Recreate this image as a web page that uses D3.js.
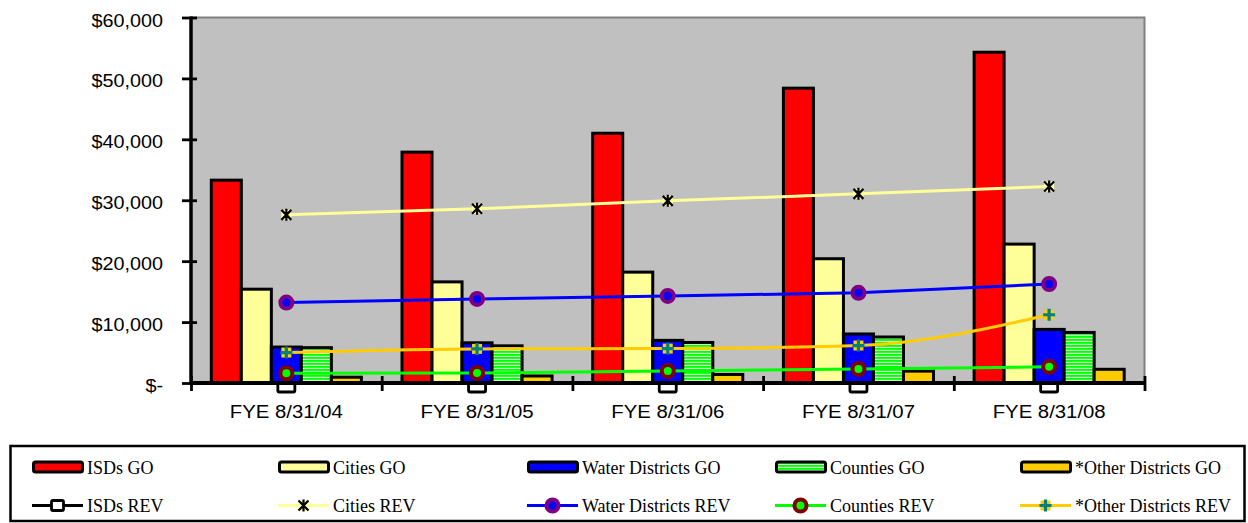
<!DOCTYPE html>
<html><head><meta charset="utf-8">
<script src="https://cdn.jsdelivr.net/npm/d3@7"></script>
<style>body{margin:0;background:#fff}svg{display:block}</style>
</head><body>
<svg id="chart" width="1248" height="523"></svg>
<script>
// ---------- DATA ----------
const categories = ["FYE 8/31/04", "FYE 8/31/05", "FYE 8/31/06", "FYE 8/31/07", "FYE 8/31/08"];
const isdsGO      = [33300, 37900, 41000, 48400, 54300];
const citiesGO    = [15400, 16600, 18200, 20400, 22800];
const waterGO     = [5900, 6600, 7000, 8050, 8800];
const countiesGO  = [5800, 6100, 6650, 7550, 8300];
const otherGO     = [950, 1150, 1400, 1950, 2250];
const isdsREV     = [0, 0, 0, 0, 0];
const citiesREV   = [27600, 28600, 29900, 31050, 32250];
const waterREV    = [13200, 13800, 14300, 14800, 16250];
const countiesREV = [1600, 1650, 1950, 2300, 2650];
const otherREV    = [5000, 5600, 5650, 6150, 11200];
const yTickValues = [0, 10000, 20000, 30000, 40000, 50000, 60000];
const yTickLabels = ["$-", "$10,000", "$20,000", "$30,000", "$40,000", "$50,000", "$60,000"];

// ---------- STYLE / CONFIG ----------
const barSeries = [
  {name: "ISDs GO", values: isdsGO, fill: "#FF0000"},
  {name: "Cities GO", values: citiesGO, fill: "#FFFF99"},
  {name: "Water Districts GO", values: waterGO, fill: "#0000FF"},
  {name: "Counties GO", values: countiesGO, fill: "url(#stripes)"},
  {name: "*Other Districts GO", values: otherGO, fill: "#FFCC00"}
];
const lineSeries = [
  {name: "ISDs REV", values: isdsREV, color: "#000000", marker: "square", smooth: false},
  {name: "Cities REV", values: citiesREV, color: "#FFFF99", marker: "star", smooth: false},
  {name: "Water Districts REV", values: waterREV, color: "#0000FF", marker: "ringPurple", smooth: false},
  {name: "Counties REV", values: countiesREV, color: "#00FF00", marker: "ringRed", smooth: false},
  {name: "*Other Districts REV", values: otherREV, color: "#FFCC00", marker: "plus", smooth: true}
];

const plot = {l: 191, r: 1144.5, t: 17.5, b: 383};
const svg = d3.select("#chart");

const defs = svg.append("defs");
const pat = defs.append("pattern").attr("id", "stripes").attr("patternUnits", "userSpaceOnUse")
  .attr("width", 6).attr("height", 3);
pat.append("rect").attr("width", 6).attr("height", 3).attr("fill", "#CCFFCC");
pat.append("rect").attr("width", 6).attr("height", 1.8).attr("fill", "#00FF00");

// ---------- SCALES ----------
const pad = 0.213;
const x0 = d3.scaleBand().domain(categories).range([plot.l, plot.r]).paddingInner(pad).paddingOuter(pad / 2);
const x1 = d3.scaleBand().domain(barSeries.map(s => s.name)).range([0, x0.bandwidth()]).padding(0);
const xIdx = d3.scaleLinear().domain([0, categories.length]).range([plot.l, plot.r]);
const y = d3.scaleLinear().domain([0, 60000]).range([plot.b, plot.t]);
const cx = c => x0(c) + x0.bandwidth() / 2;

// ---------- PLOT AREA ----------
svg.append("rect").attr("x", plot.l).attr("y", plot.t).attr("width", plot.r - plot.l).attr("height", plot.b - plot.t)
  .attr("fill", "#C0C0C0");
svg.append("path").attr("d", `M${plot.l},${plot.t}H${plot.r}V${plot.b}`).attr("fill", "none")
  .attr("stroke", "#808080").attr("stroke-width", 2);

// ---------- MARKERS ----------
function marker(g, type, x, yy, legend) {
  const m = g.append("g").attr("transform", `translate(${x},${yy})`);
  if (type === "square") {
    const w = legend ? 12 : 17, h = legend ? 10 : 18;
    m.append("rect").attr("x", -w / 2).attr("y", -h / 2).attr("width", w).attr("height", h).attr("rx", 1.5)
      .attr("fill", "#fff").attr("stroke", "#000").attr("stroke-width", 2.8);
  } else if (type === "star") {
    m.append("rect").attr("x", -5).attr("y", -5).attr("width", 10).attr("height", 10).attr("fill", "#FFFF99");
    m.append("path").attr("d", "M-5,-5L5,5M-5,5L5,-5M0,-6V6").attr("stroke", "#000").attr("stroke-width", 2.2);
  } else if (type === "ringPurple") {
    m.append("circle").attr("r", 6).attr("fill", "#0000FF").attr("stroke", "#800080").attr("stroke-width", 4);
  } else if (type === "ringRed") {
    m.append("circle").attr("r", 6).attr("fill", "#00FF00").attr("stroke", "#800000").attr("stroke-width", 4);
  } else if (type === "plus") {
    m.append("rect").attr("x", -5).attr("y", -5).attr("width", 10).attr("height", 10).attr("fill", "#FFCC00");
    m.append("path").attr("d", "M-6,0H6M0,-6V6").attr("stroke", "#008080").attr("stroke-width", 3.2);
  }
}

// ISDs REV markers sit behind the bars (only the part below the axis shows)
const behind = svg.append("g");
lineSeries.filter(s => s.marker === "square").forEach(s => {
  s.values.forEach((v, i) => marker(behind, s.marker, cx(categories[i]), y(v), false));
});

// ---------- BARS ----------
const barG = svg.append("g");
categories.forEach((c, i) => {
  barSeries.forEach(s => {
    barG.append("rect")
      .attr("x", x0(c) + x1(s.name)).attr("y", y(s.values[i]))
      .attr("width", x1.bandwidth()).attr("height", y(0) - y(s.values[i]))
      .attr("fill", s.fill).attr("stroke", "#000").attr("stroke-width", 3);
  });
});

// ---------- LINES ----------
const lineG = svg.append("g");
lineSeries.forEach(s => {
  const gen = d3.line().x((d, i) => cx(categories[i])).y(d => y(d))
    .curve(s.smooth ? d3.curveMonotoneX : d3.curveLinear);
  lineG.append("path").datum(s.values).attr("d", gen).attr("fill", "none")
    .attr("stroke", s.color).attr("stroke-width", 3);
});

// ---------- AXES ----------
const yAxis = svg.append("g").attr("transform", `translate(${plot.l},0)`)
  .call(d3.axisLeft(y).tickValues(yTickValues).tickFormat((d, i) => yTickLabels[i]).tickSize(9).tickPadding(19));
yAxis.select(".domain").attr("stroke", "#000").attr("stroke-width", 3.5).attr("d", `M0,${plot.t - 1}V${plot.b}`);
yAxis.selectAll(".tick line").attr("x1", 6).attr("x2", -9).attr("stroke", "#000").attr("stroke-width", 2.8);
yAxis.selectAll(".tick text").attr("font-family", "Liberation Sans, Arial, sans-serif").attr("font-size", 18)
  .attr("fill", "#000").attr("dy", null).attr("x", -28).attr("y", 8.5)
  .attr("transform", "translate(-28,0) scale(1.1,1) translate(28,0)");

const xAxis = svg.append("g").attr("transform", `translate(0,${plot.b})`)
  .call(d3.axisBottom(xIdx).tickValues(d3.range(categories.length + 1)).tickFormat("").tickSize(8));
xAxis.select(".domain").attr("stroke", "#000").attr("stroke-width", 4).attr("d", `M${plot.l},0H${plot.r + 1}`);
xAxis.selectAll(".tick line").attr("y1", -7).attr("y2", 8).attr("stroke", "#000").attr("stroke-width", 2.8);

// markers above everything in the plot (except ISDs REV, drawn behind)
const markG = svg.append("g");
lineSeries.filter(s => s.marker !== "square").forEach(s => {
  s.values.forEach((v, i) => marker(markG, s.marker, cx(categories[i]), y(v), false));
});

// category labels
svg.append("g").selectAll("text").data(categories).join("text")
  .attr("transform", d => `translate(${cx(d)},418) scale(1.13,1)`)
  .attr("text-anchor", "middle").attr("font-family", "Liberation Sans, Arial, sans-serif")
  .attr("font-size", 18).attr("fill", "#000").text(d => d);

// ---------- LEGEND ----------
const leg = svg.append("g");
leg.append("rect").attr("x", 10.5).attr("y", 446).attr("width", 1234).attr("height", 75)
  .attr("fill", "#fff").attr("stroke", "#000").attr("stroke-width", 2.5);
const colX = [32, 278, 527, 775, 1020];
const row1 = 467, row2 = 505.5;
barSeries.forEach((s, i) => {
  leg.append("rect").attr("x", colX[i] + 1.5).attr("y", row1 - 5).attr("width", 49).attr("height", 10).attr("rx", 2)
    .attr("fill", s.fill).attr("stroke", "#000").attr("stroke-width", 3);
  leg.append("text").attr("x", colX[i] + 55).attr("y", row1 + 6.5).attr("font-family", "Liberation Serif, Times New Roman, serif")
    .attr("font-size", 18).attr("fill", "#000").text(s.name);
});
lineSeries.forEach((s, i) => {
  leg.append("line").attr("x1", colX[i]).attr("x2", colX[i] + 51).attr("y1", row2).attr("y2", row2)
    .attr("stroke", s.color).attr("stroke-width", 3);
  marker(leg, s.marker, colX[i] + 25.5, row2, true);
  leg.append("text").attr("x", colX[i] + 55).attr("y", row2 + 6.5).attr("font-family", "Liberation Serif, Times New Roman, serif")
    .attr("font-size", 18).attr("fill", "#000").text(s.name);
});
</script>
</body></html>
